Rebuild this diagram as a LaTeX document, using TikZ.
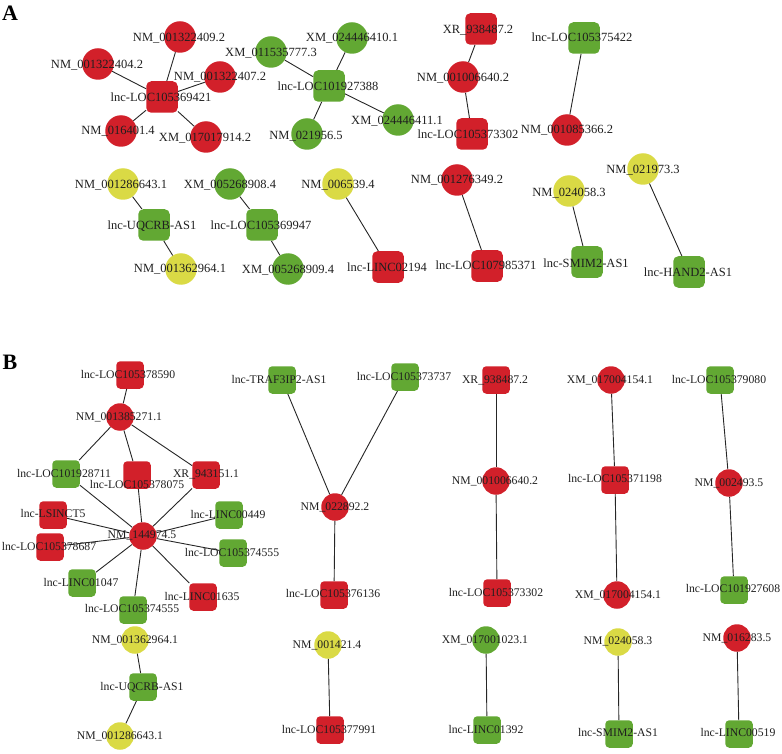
\documentclass[tikz,border=0pt]{standalone}
\usepackage{fontspec}
\setmainfont{Liberation Serif}
\definecolor{nred}{HTML}{D2202A}
\definecolor{ngreen}{HTML}{62A833}
\definecolor{nyel}{HTML}{DADA45}
\begin{document}
\begin{tikzpicture}[x=1pt,y=-1pt,
  cA/.style={circle,minimum size=31.5pt,inner sep=0pt,draw=none},
  sA/.style={rectangle,rounded corners=5pt,minimum size=31.5pt,inner sep=0pt,draw=none},
  cB/.style={circle,minimum size=27.5pt,inner sep=0pt,draw=none},
  sB/.style={rectangle,rounded corners=4pt,minimum size=27.5pt,inner sep=0pt,draw=none},
  fr/.style={fill=nred}, fg/.style={fill=ngreen}, fy/.style={fill=nyel},
  tA/.style={font=\fontsize{12.5}{14}\selectfont,inner sep=0pt,text height=8.2pt,text depth=0pt,text=black!88},
  tB/.style={font=\fontsize{11.7}{13}\selectfont,inner sep=0pt,text height=7.7pt,text depth=0pt,text=black!88},
  lnk/.style={draw=black!85,line width=0.9pt},
  letter/.style={font=\fontsize{22}{24}\selectfont\bfseries,inner sep=0pt}]
\useasboundingbox (0,0) rectangle (782,754);
\node[letter] (LA) at (10,13) {A};
\node[letter] (LB) at (10,362) {B};
% ---------- Part A shapes
\node[sA,fr] (a1) at (162,97) {};
\node[cA,fr] (a2) at (180,37) {};
\node[cA,fr] (a3) at (98,64) {};
\node[cA,fr] (a4) at (220,77) {};
\node[cA,fr] (a5) at (121,131) {};
\node[cA,fr] (a6) at (206,137) {};
\node[sA,fg] (b1) at (329,86) {};
\node[cA,fg] (b2) at (352,38) {};
\node[cA,fg] (b3) at (271,52) {};
\node[cA,fg] (b4) at (307,134) {};
\node[cA,fg] (b5) at (398,120) {};
\node[sA,fr] (c1) at (481,29) {};
\node[cA,fr] (c2) at (463,77) {};
\node[sA,fr] (c3) at (472,134) {};
\node[sA,fg] (d1) at (584,38) {};
\node[cA,fr] (d2) at (567,130) {};
\node[cA,fy] (e1) at (123,184) {};
\node[sA,fg] (e2) at (154,225) {};
\node[cA,fy] (e3) at (181,269) {};
\node[cA,fg] (f1) at (230,184) {};
\node[sA,fg] (f2) at (262,225) {};
\node[cA,fg] (f3) at (288,269) {};
\node[cA,fy] (g1) at (338,184) {};
\node[sA,fr] (g2) at (388,267) {};
\node[cA,fr] (h1) at (457,180) {};
\node[sA,fr] (h2) at (487,266) {};
\node[cA,fy] (i1) at (569,191) {};
\node[sA,fg] (i2) at (587,262) {};
\node[cA,fy] (j1) at (643,169) {};
\node[sA,fg] (j2) at (689,272) {};
% ---------- Part B shapes
\node[sB,fr] (p1) at (130,375) {};
\node[cB,fr] (p2) at (120,417) {};
\node[sB,fg] (p3) at (66,474) {};
\node[sB,fr] (p4) at (137,475) {};
\node[sB,fr] (p5) at (206,475) {};
\node[cB,fr] (p0) at (143,536) {};
\node[sB,fr] (p6) at (53,515) {};
\node[sB,fr] (p7) at (50,547) {};
\node[sB,fg] (p8) at (229,515) {};
\node[sB,fg] (p9) at (233,553) {};
\node[sB,fg] (p10) at (82,583) {};
\node[sB,fg] (p11) at (133,610) {};
\node[sB,fr] (p12) at (203,597) {};
\node[cB,fy] (q1) at (135,640) {};
\node[sB,fg] (q2) at (143,687) {};
\node[cB,fy] (q3) at (120,736) {};
\node[sB,fg] (r1) at (282,380) {};
\node[sB,fg] (r2) at (405,377) {};
\node[cB,fr] (r3) at (335,507) {};
\node[sB,fr] (r4) at (334,595) {};
\node[cB,fy] (s1) at (328,645) {};
\node[sB,fr] (s2) at (330,730) {};
\node[sB,fr] (u1) at (496,380) {};
\node[cB,fr] (u2) at (496,481) {};
\node[sB,fr] (u3) at (497,593) {};
\node[cB,fg] (v1) at (486,640) {};
\node[sB,fg] (v2) at (487,730) {};
\node[cB,fr] (w1) at (611,380) {};
\node[sB,fr] (w2) at (615,480) {};
\node[cB,fr] (w3) at (617,595) {};
\node[cB,fy] (x1) at (618,642) {};
\node[sB,fg] (x2) at (619,734) {};
\node[sB,fg] (y1) at (720,380) {};
\node[cB,fr] (y2) at (729,483) {};
\node[sB,fg] (y3) at (734,590) {};
\node[cB,fr] (z1) at (737,638) {};
\node[sB,fg] (z2) at (739,734) {};
% ---------- connectors
\foreach \u/\v in {a1/a2,a1/a3,a1/a4,a1/a5,a1/a6,b1/b2,b1/b3,b1/b4,b1/b5,c1/c2,c2/c3,d1/d2,
  e1/e2,e2/e3,f1/f2,f2/f3,g1/g2,h1/h2,i1/i2,j1/j2,
  p2/p1,p2/p3,p2/p4,p2/p5,p0/p3,p0/p4,p0/p5,p0/p6,p0/p7,p0/p8,p0/p9,p0/p10,p0/p11,p0/p12,
  q1/q2,q2/q3,r1/r3,r2/r3,r3/r4,s1/s2,u1/u2,u2/u3,v1/v2,w1/w2,w2/w3,x1/x2,y1/y2,y2/y3,z1/z2}
  \draw[lnk] (\u) -- (\v);
% ---------- Part A labels
\node[tA] (ta1) at (161,97) {lnc-LOC105369421};
\node[tA] (ta2) at (179,37) {NM\_001322409.2};
\node[tA] (ta3) at (97,64) {NM\_001322404.2};
\node[tA] (ta4) at (220,76) {NM\_001322407.2};
\node[tA] (ta5) at (118,130) {NM\_016401.4};
\node[tA] (ta6) at (205,137) {XM\_017017914.2};
\node[tA] (tb1) at (328,86) {lnc-LOC101927388};
\node[tA] (tb2) at (352,37) {XM\_024446410.1};
\node[tA] (tb3) at (271,52) {XM\_011535777.3};
\node[tA] (tb4) at (306,135) {NM\_021956.5};
\node[tA] (tb5) at (397,120) {XM\_024446411.1};
\node[tA] (tc1) at (478,29) {XR\_938487.2};
\node[tA] (tc2) at (463,77) {NM\_001006640.2};
\node[tA] (tc3) at (468,134) {lnc-LOC105373302};
\node[tA] (td1) at (582,37) {lnc-LOC105375422};
\node[tA] (td2) at (567,129) {NM\_001085366.2};
\node[tA] (te1) at (121,184) {NM\_001286643.1};
\node[tA] (te2) at (152,225) {lnc-UQCRB-AS1};
\node[tA] (te3) at (180,268) {NM\_001362964.1};
\node[tA] (tf1) at (230,184) {XM\_005268908.4};
\node[tA] (tf2) at (261,225) {lnc-LOC105369947};
\node[tA] (tf3) at (288,269) {XM\_005268909.4};
\node[tA] (tg1) at (338,184) {NM\_006539.4};
\node[tA] (tg2) at (387,267) {lnc-LINC02194};
\node[tA] (th1) at (457,179) {NM\_001276349.2};
\node[tA] (th2) at (486,265) {lnc-LOC107985371};
\node[tA] (ti1) at (569,192) {NM\_024058.3};
\node[tA] (ti2) at (586,263) {lnc-SMIM2-AS1};
\node[tA] (tj1) at (643,169) {NM\_021973.3};
\node[tA] (tj2) at (688,272) {lnc-HAND2-AS1};
% ---------- Part B labels
\node[tB] (tp1) at (128,375) {lnc-LOC105378590};
\node[tB] (tp2) at (119,417) {NM\_001385271.1};
\node[tB] (tp3) at (64,474) {lnc-LOC101928711};
\node[tB] (tp4) at (137,485) {lnc-LOC105378075};
\node[tB] (tp5) at (206,474) {XR\_943151.1};
\node[tB] (tp0) at (142,535) {NM\_144974.5};
\node[tB] (tp6) at (53,514) {lnc-LSINCT5};
\node[tB] (tp7) at (49,547) {lnc-LOC105378687};
\node[tB] (tp8) at (228,515) {lnc-LINC00449};
\node[tB] (tp9) at (232,553) {lnc-LOC105374555};
\node[tB] (tp10) at (81,583) {lnc-LINC01047};
\node[tB] (tp11) at (132,609) {lnc-LOC105374555};
\node[tB] (tp12) at (202,597) {lnc-LINC01635};
\node[tB] (tq1) at (135,640) {NM\_001362964.1};
\node[tB] (tq2) at (142,687) {lnc-UQCRB-AS1};
\node[tB] (tq3) at (120,736) {NM\_001286643.1};
\node[tB] (tr1) at (279,380) {lnc-TRAF3IP2-AS1};
\node[tB] (tr2) at (404,377) {lnc-LOC105373737};
\node[tB] (tr3) at (335,507) {NM\_022892.2};
\node[tB] (tr4) at (333,594) {lnc-LOC105376136};
\node[tB] (ts1) at (327,645) {NM\_001421.4};
\node[tB] (ts2) at (329,730) {lnc-LOC105377991};
\node[tB] (tu1) at (495,380) {XR\_938487.2};
\node[tB] (tu2) at (495,481) {NM\_001006640.2};
\node[tB] (tu3) at (496,593) {lnc-LOC105373302};
\node[tB] (tv1) at (485,640) {XM\_017001023.1};
\node[tB] (tv2) at (486,730) {lnc-LINC01392};
\node[tB] (tw1) at (610,380) {XM\_017004154.1};
\node[tB] (tw2) at (615,479) {lnc-LOC105371198};
\node[tB] (tw3) at (618,595) {XM\_017004154.1};
\node[tB] (tx1) at (618,641) {NM\_024058.3};
\node[tB] (tx2) at (618,733) {lnc-SMIM2-AS1};
\node[tB] (ty1) at (719,380) {lnc-LOC105379080};
\node[tB] (ty2) at (729,483) {NM\_002493.5};
\node[tB] (ty3) at (733,589) {lnc-LOC101927608};
\node[tB] (tz1) at (737,638) {NM\_016283.5};
\node[tB] (tz2) at (738,733) {lnc-LINC00519};
\end{tikzpicture}
\end{document}
